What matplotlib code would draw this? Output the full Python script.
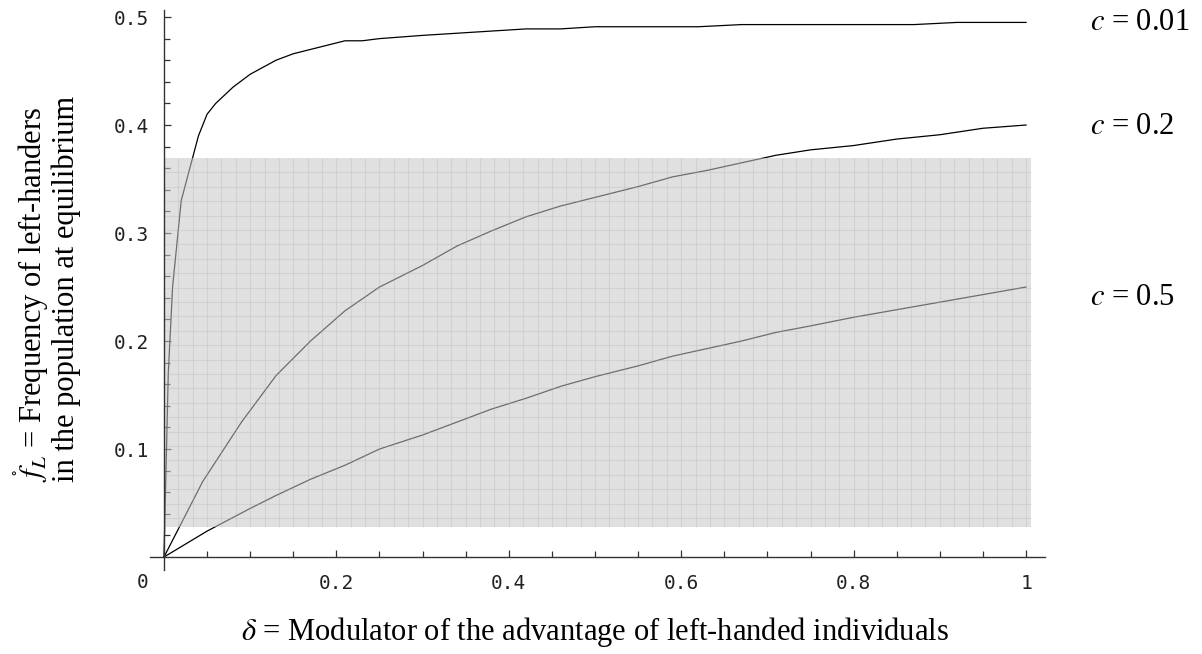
import matplotlib
matplotlib.use('Agg')
import matplotlib.pyplot as plt
from matplotlib.patches import Rectangle
import numpy as np

plt.rcParams['mathtext.fontset'] = 'stix'

# values
delta_01 = [0, 0.005, 0.01, 0.02, 0.03, 0.04, 0.05, 0.06, 0.08, 0.1, 0.13, 0.15, 0.17,
            0.21, 0.23, 0.25, 0.3, 0.42, 0.46, 0.5, 0.62, 0.67, 0.87, 0.92, 1.0]
freq_01 = [0, 0.17, 0.25, 0.33, 0.36, 0.39, 0.41, 0.42, 0.435, 0.447, 0.46, 0.466, 0.47,
           0.478, 0.478, 0.48, 0.483, 0.489, 0.489, 0.491, 0.491, 0.493, 0.493, 0.495, 0.495]

delta_2 = [0, 0.045, 0.09, 0.13, 0.17, 0.21, 0.25, 0.3, 0.34, 0.38, 0.42, 0.46, 0.5,
           0.55, 0.59, 0.63, 0.67, 0.71, 0.75, 0.8, 0.85, 0.9, 0.95, 1.0]
freq_2 = [0, 0.07, 0.125, 0.168, 0.2, 0.228, 0.25, 0.27, 0.288, 0.302, 0.315, 0.325, 0.333,
          0.343, 0.352, 0.358, 0.365, 0.372, 0.377, 0.381, 0.387, 0.391, 0.397, 0.4]

delta_5 = [0, 0.05, 0.1, 0.13, 0.17, 0.21, 0.25, 0.3, 0.34, 0.38, 0.42, 0.46, 0.5,
           0.55, 0.59, 0.63, 0.67, 0.71, 0.75, 0.8, 0.85, 0.9, 0.95, 1.0]
freq_5 = [0, 0.024, 0.045, 0.057, 0.072, 0.085, 0.1, 0.113, 0.125, 0.137, 0.147, 0.158, 0.167,
          0.177, 0.186, 0.193, 0.2, 0.208, 0.214, 0.222, 0.229, 0.236, 0.243, 0.25]

curve_labels = ['0.01', '0.2', '0.5']
x_ticks = [0.2, 0.4, 0.6, 0.8, 1.0]
x_ticklabels = ['0.2', '0.4', '0.6', '0.8', '1']
y_ticks = [0.1, 0.2, 0.3, 0.4, 0.5]
y_ticklabels = ['0.1', '0.2', '0.3', '0.4', '0.5']

# shaded band (data coords)
SHADE_X = (0.0, 1.006)
SHADE_Y = (0.0278, 0.3694)

W, H = 1202, 654
fig = plt.figure(figsize=(W / 100, H / 100), dpi=100)
ax = fig.add_axes([150 / W, 84 / H, (1045 - 150) / W, (644 - 84) / H])
ax.set_xlim(-0.0162, 1.022)
ax.set_ylim(-0.012, 0.5065)

for d, f in [(delta_01, freq_01), (delta_2, freq_2), (delta_5, freq_5)]:
    ax.plot(d, f, color='black', lw=0.9, zorder=2)

# translucent grey band with graph-paper grid on top of the curves
ax.add_patch(Rectangle((SHADE_X[0], SHADE_Y[0]), SHADE_X[1] - SHADE_X[0], SHADE_Y[1] - SHADE_Y[0],
                       facecolor=(0.78, 0.78, 0.78), alpha=0.55, lw=0, zorder=3))
gx = np.arange(SHADE_X[0] + 1 / 60, SHADE_X[1], 1 / 60)
gy = np.arange(SHADE_Y[1] - 1 / 75, SHADE_Y[0], -1 / 75)
ax.vlines(gx, SHADE_Y[0], SHADE_Y[1], color='#a8a8a8', alpha=0.25, lw=0.8, zorder=4)
ax.hlines(gy, SHADE_X[0], SHADE_X[1], color='#a8a8a8', alpha=0.25, lw=0.8, zorder=4)

for s in ['top', 'right']:
    ax.spines[s].set_visible(False)
ax.spines['left'].set_position(('data', 0))
ax.spines['bottom'].set_position(('data', 0))
for s in ['left', 'bottom']:
    ax.spines[s].set_color('#333333')
    ax.spines[s].set_linewidth(1.0)
    ax.spines[s].set_zorder(5)

ax.set_xticks(x_ticks)
ax.set_xticklabels(x_ticklabels)
ax.set_xticks(np.arange(0.05, 1.001, 0.05), minor=True)
ax.set_yticks(y_ticks)
ax.set_yticklabels(y_ticklabels)
ax.set_yticks(np.arange(0.02, 0.501, 0.02), minor=True)
ax.tick_params(which='both', direction='in', color='#333333', width=0.9,
               labelsize=14, labelfontfamily='DejaVu Sans Mono', labelcolor='#222222')
ax.tick_params(which='major', length=5)
ax.tick_params(which='minor', length=4)
ax.tick_params(axis='x', pad=12)
ax.tick_params(axis='y', pad=11)

ax.text(-0.0244, -0.024, '0', ha='center', va='center', fontsize=14,
        family='DejaVu Sans Mono', color='#222222')

serif = 'Liberation Serif'
fig.text(595 / W, 1 - 632 / H,
         r'$\delta$ = Modulator of the advantage of left-handed individuals',
         ha='center', va='center', fontsize=22, family=serif)
fig.text(46 / W, 1 - 482 / H,
         '$\\mathring{f}_{L}$ = Frequency of left-handers\nin the population at equilibrium',
         rotation=90, rotation_mode='anchor', ha='left', va='center',
         multialignment='left', fontsize=22, family=serif, linespacing=1.05)

label_y = [22, 127, 297]
for lab, yy in zip(curve_labels, label_y):
    fig.text(1090 / W, 1 - yy / H, '$c$ = ' + lab, ha='left', va='center',
             fontsize=22, family=serif)

fig.savefig('out.png', dpi=100)
